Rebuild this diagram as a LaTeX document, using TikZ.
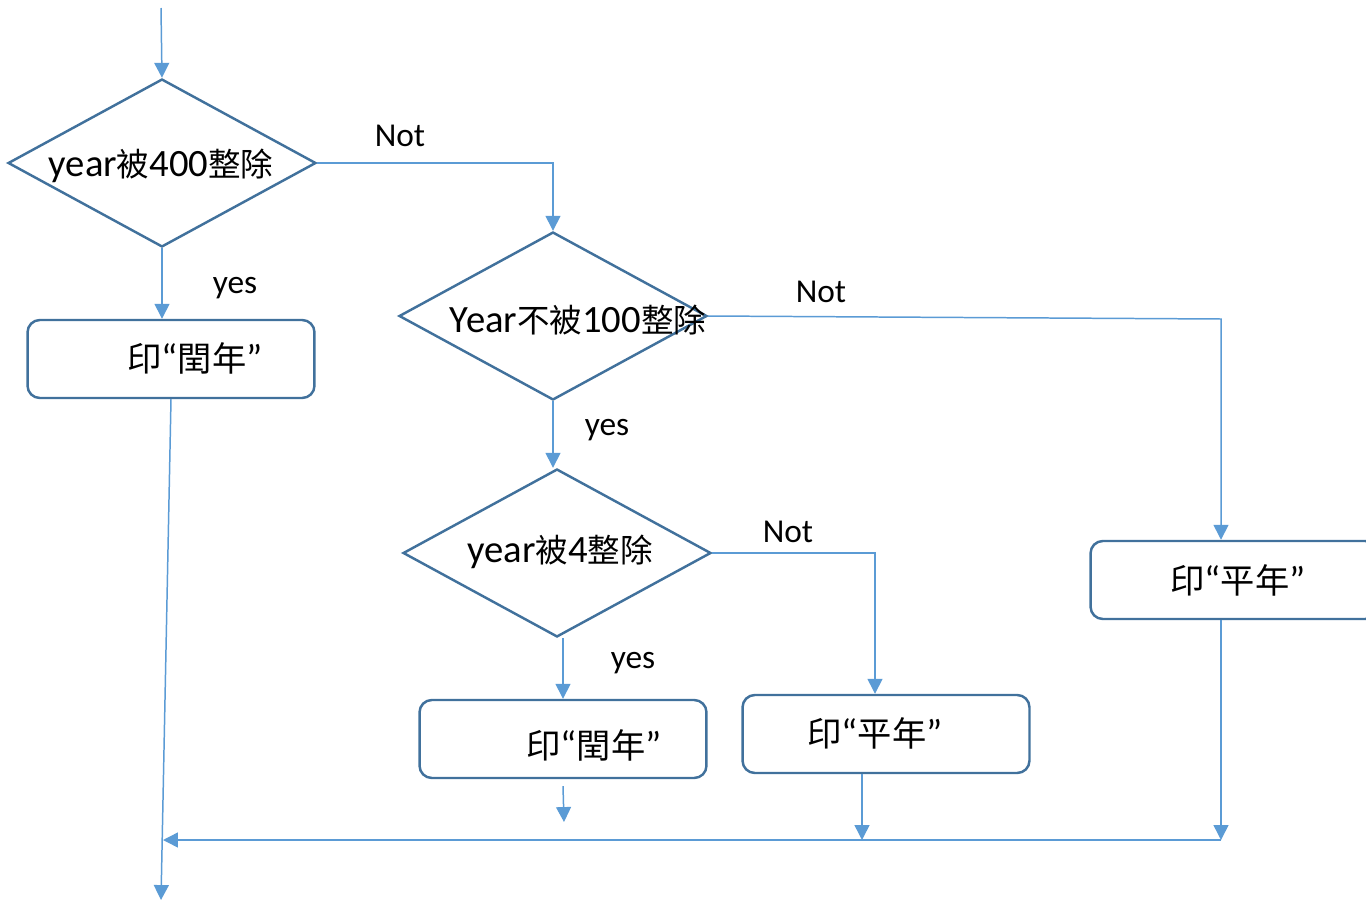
\documentclass[tikz,border=0pt]{standalone}
\usepackage{fontspec}
\setmainfont{Carlito}
\newfontfamily\cjk{Noto Sans CJK TC}
\usetikzlibrary{shapes.geometric,arrows.meta}
\definecolor{boxblue}{HTML}{41719C}
\definecolor{linkblue}{HTML}{5B9BD5}
\newcommand{\zh}[1]{{\cjk\fontsize{18.5}{22}\selectfont #1}}
\newcommand{\zhbig}[1]{{\cjk\fontsize{19.5}{23}\selectfont #1}}
\tikzset{
  decision/.style={diamond,draw=boxblue,line width=1.4pt,minimum width=6.16cm,minimum height=3.36cm,inner sep=0pt},
  printbox/.style={rectangle,draw=boxblue,line width=1.4pt,rounded corners=7pt,minimum width=5.74cm,minimum height=1.56cm},
  cond/.style={font=\fontsize{22}{26}\selectfont,inner sep=0pt},
  branch/.style={font=\fontsize{19}{23}\selectfont,inner sep=0pt},
  flow/.style={draw=linkblue,line width=0.85pt,-{Triangle[width=8.5pt,length=8.5pt]}},
}
\begin{document}
\begin{tikzpicture}[x=0.02cm,y=-0.02cm]
\useasboundingbox (0,0) rectangle (1366,903);

% free ends of the connectors
\coordinate (in) at (161,8);
\coordinate (out) at (161,900);
\coordinate (c2) at (1221,319);
\coordinate (m2) at (564,822);
\coordinate (m3) at (862,840);
\coordinate (m4) at (1221,840);
\coordinate (mj) at (163,840);

% decisions
\node[decision] (d1) at (162,163) {};
\node[cond] (t1) at (161,166) {year\zh{被}400\zh{整除}};
\node[decision] (d2) at (553,316) {};
\node[cond] (t2) at (578,320) {Year\zh{不被}100\zh{整除}};
\node[decision] (d3) at (557,553) {};
\node[cond] (t3) at (560,552) {year\zh{被}4\zh{整除}};

% outputs
\node[printbox] (b1) at (171,359) {};
\node[cond] (l1) at (195,358) {\zhbig{印}“\zhbig{閏年}”};
\node[printbox] (b2) at (563,739) {};
\node[cond] (l2) at (594,745) {\zhbig{印}“\zhbig{閏年}”};
\node[printbox] (b3) at (886,734) {};
\node[cond] (l3) at (875,733) {\zhbig{印}“\zhbig{平年}”};
\node[printbox] (b4) at (1234,580) {};
\node[cond] (l4) at (1238,580) {\zhbig{印}“\zhbig{平年}”};

% branch labels
\node[branch] (n1) at (400,136) {Not};
\node[branch] (y1) at (235,288) {yes};
\node[branch] (n2) at (821,292) {Not};
\node[branch] (y2) at (607,430) {yes};
\node[branch] (n3) at (788,532) {Not};
\node[branch] (y3) at (633,663) {yes};

% connectors
\draw[flow] (in) -- (d1.north);
\draw[flow] (d1.east) -| (d2.north);
\draw[flow] (d1.south) -- (d1.south |- b1.north);
\draw[flow] (d2.east) -- (c2) -- (c2 |- b4.north);
\draw[flow] (d2.south) -- (d2.south |- d3.north);
\draw[flow] (d3.east) -| ([xshift=-0.22cm]b3.north);
\draw[flow] (b2.north |- d3.south) -- (b2.north);
\draw[flow] (b1.south) -- (out);
\draw[flow] ([yshift=-0.14cm]b2.south) -- (m2);
\draw[flow] (b3.south -| m3) -- (m3);
\draw[flow] (c2 |- b4.south) -- (m4);
\draw[flow] (m4) -- (mj);
\end{tikzpicture}
\end{document}
